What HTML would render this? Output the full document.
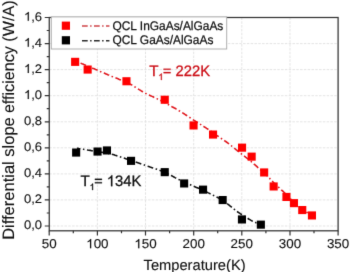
<!DOCTYPE html><html><head><meta charset="utf-8"><style>html,body{margin:0;padding:0;background:#fff;overflow:hidden}</style></head><body><svg width="350" height="272" viewBox="0 0 350 272" style="display:block" text-rendering="geometricPrecision">
<rect width="350" height="272" fill="#fff"/>
<defs><filter id="b" x="0" y="0" width="350" height="272" filterUnits="userSpaceOnUse" color-interpolation-filters="sRGB"><feConvolveMatrix order="3" kernelMatrix="0.0081 0.0738 0.0081 0.0738 0.6724 0.0738 0.0081 0.0738 0.0081" divisor="1" edgeMode="none" preserveAlpha="false"/></filter></defs>
<g id="all" filter="url(#b)">
<path d="M97.4,17.5 V230.8 M145.5,17.5 V230.8 M193.7,17.5 V230.8 M241.8,17.5 V230.8 M290.0,17.5 V230.8 M49.25,226.0 H338.1 M49.25,199.9 H338.1 M49.25,173.9 H338.1 M49.25,147.8 H338.1 M49.25,121.8 H338.1 M49.25,95.7 H338.1 M49.25,69.6 H338.1 M49.25,43.6 H338.1" stroke="#e3e3e3" stroke-width="0.95" stroke-dasharray="2.5 1.3" fill="none"/>
<rect x="49.25" y="17.5" width="288.85" height="213.3" fill="none" stroke="#333" stroke-width="1.25"/>
<path d="M49.2,230.8 v4.8 M73.3,230.8 v2.4 M97.4,230.8 v4.8 M121.5,230.8 v2.4 M145.5,230.8 v4.8 M169.6,230.8 v2.4 M193.7,230.8 v4.8 M217.7,230.8 v2.4 M241.8,230.8 v4.8 M265.9,230.8 v2.4 M290.0,230.8 v4.8 M314.0,230.8 v2.4 M338.1,230.8 v4.8 M49.25,226.0 h-4.5 M49.25,213.0 h-2.5 M49.25,199.9 h-4.5 M49.25,186.9 h-2.5 M49.25,173.9 h-4.5 M49.25,160.8 h-2.5 M49.25,147.8 h-4.5 M49.25,134.8 h-2.5 M49.25,121.8 h-4.5 M49.25,108.7 h-2.5 M49.25,95.7 h-4.5 M49.25,82.7 h-2.5 M49.25,69.6 h-4.5 M49.25,56.6 h-2.5 M49.25,43.6 h-4.5 M49.25,30.5 h-2.5 M49.25,17.5 h-4.5" stroke="#333" stroke-width="1.2" fill="none"/>
<path d="M75.4,61.0 L76.5,61.5 L78.2,62.2 L80.1,62.9 L82.1,63.8 L84.0,64.6 L85.6,65.2 L87.0,65.8 L88.3,66.3 L89.4,66.8 L90.5,67.3 L91.6,67.7 L92.7,68.2 L93.7,68.6 L94.7,69.0 L95.6,69.4 L96.6,69.8 L97.5,70.2 L98.4,70.6 L99.4,71.0 L100.3,71.5 L101.3,71.9 L102.2,72.3 L103.2,72.7 L104.2,73.1 L105.1,73.5 L106.0,73.9 L106.9,74.3 L107.8,74.7 L108.8,75.1 L109.8,75.5 L110.9,75.9 L112.0,76.4 L113.1,76.8 L114.3,77.3 L115.5,77.8 L116.8,78.3 L118.0,78.8 L119.4,79.4 L120.8,79.9 L122.1,80.5 L123.5,81.0 L124.7,81.5 L125.8,82.0 L126.9,82.5 L128.0,83.0 L129.0,83.5 L129.9,84.0 L130.8,84.4 L131.7,84.9 L132.4,85.3 L133.1,85.8 L133.8,86.2 L134.5,86.7 L135.3,87.1 L136.0,87.6 L136.8,88.1 L137.6,88.6 L138.4,89.1 L139.2,89.6 L140.1,90.1 L140.9,90.7 L141.8,91.2 L142.7,91.7 L143.6,92.2 L144.5,92.7 L145.4,93.2 L146.3,93.6 L147.3,94.1 L148.2,94.6 L149.2,95.0 L150.1,95.5 L151.1,95.9 L152.0,96.4 L153.0,96.8 L153.9,97.3 L154.9,97.7 L155.9,98.2 L156.8,98.6 L157.7,99.1 L158.7,99.5 L159.6,100.0 L160.5,100.4 L161.4,100.9 L162.4,101.4 L163.3,101.9 L164.3,102.4 L165.2,102.9 L166.2,103.4 L167.1,103.9 L168.1,104.5 L169.1,105.0 L170.1,105.6 L171.0,106.1 L172.0,106.7 L173.0,107.2 L174.0,107.8 L175.0,108.3 L176.0,108.9 L177.0,109.5 L178.0,110.1 L179.0,110.7 L180.0,111.2 L181.0,111.9 L182.0,112.5 L183.0,113.1 L184.0,113.7 L185.0,114.4 L185.9,115.0 L186.9,115.7 L187.9,116.3 L188.9,117.0 L189.9,117.6 L190.8,118.3 L191.8,118.9 L192.8,119.5 L193.7,120.2 L194.7,120.8 L195.7,121.4 L196.7,122.0 L197.6,122.6 L198.6,123.2 L199.6,123.8 L200.5,124.4 L201.5,125.0 L202.5,125.7 L203.5,126.3 L204.5,127.0 L205.6,127.6 L206.6,128.3 L207.7,129.0 L208.7,129.8 L209.8,130.5 L210.9,131.2 L211.9,132.0 L213.0,132.8 L214.1,133.6 L215.2,134.3 L216.2,135.1 L217.3,135.8 L218.3,136.4 L219.2,137.1 L220.2,137.8 L221.1,138.4 L222.0,139.0 L222.9,139.6 L223.7,140.1 L224.5,140.7 L225.3,141.2 L226.1,141.7 L226.8,142.3 L227.6,142.8 L228.3,143.3 L229.0,143.9 L229.7,144.4 L230.4,144.9 L231.1,145.5 L231.8,146.1 L232.5,146.6 L233.2,147.2 L233.9,147.8 L234.6,148.4 L235.3,149.0 L236.0,149.6 L236.8,150.2 L237.5,150.8 L238.2,151.3 L239.0,151.9 L239.7,152.5 L240.4,153.1 L241.1,153.6 L241.8,154.2 L242.5,154.7 L243.2,155.2 L243.9,155.8 L244.6,156.3 L245.3,156.8 L245.9,157.3 L246.6,157.8 L247.2,158.3 L247.9,158.8 L248.5,159.3 L249.1,159.8 L249.7,160.2 L250.3,160.7 L250.9,161.2 L251.5,161.8 L252.2,162.3 L252.8,162.9 L253.5,163.5 L254.1,164.1 L254.8,164.7 L255.5,165.3 L256.2,165.9 L257.0,166.6 L257.7,167.3 L258.5,168.0 L259.2,168.6 L259.9,169.3 L260.6,169.9 L261.3,170.5 L262.0,171.1 L262.6,171.7 L263.3,172.3 L263.9,172.9 L264.6,173.4 L265.2,174.0 L265.8,174.6 L266.5,175.1 L267.1,175.7 L267.7,176.4 L268.4,177.0 L269.0,177.7 L269.7,178.4 L270.3,179.1 L271.0,179.7 L271.6,180.4 L272.2,181.0 L272.7,181.6 L273.3,182.2 L273.8,182.8 L274.4,183.4 L275.0,184.0 L275.6,184.6 L276.2,185.1 L276.8,185.7 L277.5,186.3 L278.1,186.9 L278.9,187.5 L279.6,188.3 L280.5,189.0 L281.3,189.8 L282.2,190.6 L283.1,191.4 L283.9,192.2 L284.8,193.1 L285.6,193.9 L286.5,194.8 L287.3,195.7 L288.2,196.6 L289.1,197.5 L290.0,198.4 L290.9,199.3 L291.8,200.3 L292.7,201.2 L293.7,202.2 L294.8,203.2 L295.9,204.2 L297.1,205.3 L298.4,206.3 L299.7,207.4 L301.0,208.4 L302.4,209.5 L304.0,210.5 L305.8,211.7 L307.6,212.8 L309.3,213.9 L310.8,214.8 L311.8,215.4" stroke="#e0181e" stroke-width="1.6" stroke-dasharray="5.9 2.6 1.5 2.6" stroke-dashoffset="7" fill="none"/>
<path d="M77.0,148.3 L77.8,148.4 L79.0,148.6 L80.4,148.8 L81.8,149.1 L83.3,149.3 L84.8,149.5 L86.1,149.7 L87.5,150.0 L88.9,150.2 L90.3,150.4 L91.7,150.7 L93.1,150.9 L94.6,151.1 L96.1,151.4 L97.6,151.6 L99.1,151.8 L100.6,152.1 L102.1,152.3 L103.5,152.6 L105.0,152.8 L106.4,153.1 L107.8,153.3 L109.1,153.6 L110.5,153.9 L111.7,154.2 L112.9,154.5 L114.0,154.8 L115.1,155.2 L116.2,155.5 L117.3,155.9 L118.5,156.2 L119.6,156.6 L120.6,156.9 L121.7,157.3 L122.8,157.7 L124.0,158.1 L125.2,158.5 L126.4,158.9 L127.6,159.3 L128.9,159.7 L130.2,160.2 L131.5,160.6 L132.9,161.1 L134.3,161.6 L135.7,162.1 L137.1,162.6 L138.6,163.1 L140.0,163.6 L141.5,164.1 L142.9,164.6 L144.4,165.1 L145.8,165.6 L147.3,166.1 L148.7,166.5 L150.1,167.0 L151.4,167.4 L152.8,167.9 L154.1,168.3 L155.4,168.8 L156.7,169.2 L157.9,169.7 L159.1,170.1 L160.3,170.6 L161.5,171.0 L162.7,171.5 L163.9,172.0 L165.0,172.5 L166.1,173.0 L167.2,173.6 L168.3,174.1 L169.4,174.7 L170.6,175.2 L171.7,175.8 L172.8,176.4 L173.9,177.0 L175.0,177.6 L176.2,178.2 L177.3,178.8 L178.5,179.4 L179.7,180.0 L180.9,180.6 L182.1,181.1 L183.4,181.7 L184.7,182.3 L186.0,182.9 L187.4,183.5 L188.8,184.1 L190.3,184.7 L191.7,185.4 L193.2,186.0 L194.8,186.7 L196.4,187.4 L198.0,188.1 L199.6,188.8 L201.3,189.5 L202.9,190.3 L204.5,191.0 L206.2,191.8 L207.8,192.6 L209.5,193.4 L211.1,194.2 L212.7,195.0 L214.2,195.8 L215.7,196.6 L217.2,197.3 L218.7,198.1 L220.1,198.9 L221.5,199.8 L222.8,200.6 L224.1,201.5 L225.4,202.3 L226.6,203.2 L227.8,204.2 L229.1,205.1 L230.3,206.1 L231.6,207.1 L232.9,208.1 L234.1,209.1 L235.4,210.1 L236.6,211.1 L237.8,212.0 L239.1,212.8 L240.3,213.7 L241.5,214.5 L242.6,215.2 L243.7,215.9 L244.7,216.6 L245.7,217.2 L246.6,217.7 L247.5,218.2 L248.3,218.7 L249.1,219.2 L249.9,219.6 L250.7,220.1 L251.4,220.5 L252.2,220.9 L252.9,221.2 L253.6,221.6 L254.4,222.0 L255.3,222.4 L256.1,222.8 L256.9,223.1 L257.5,223.4 L258.0,223.6" stroke="#111" stroke-width="1.6" stroke-dasharray="5.9 2.6 1.5 2.6" stroke-dashoffset="2.5" fill="none"/>
<rect x="71.1" y="57.8" width="8.1" height="8.1" fill="#ff0000"/>
<rect x="83.6" y="65.5" width="8.1" height="8.1" fill="#ff0000"/>
<rect x="122.4" y="77.2" width="8.1" height="8.1" fill="#ff0000"/>
<rect x="160.7" y="95.7" width="8.1" height="8.1" fill="#ff0000"/>
<rect x="189.5" y="121.4" width="8.1" height="8.1" fill="#ff0000"/>
<rect x="209.0" y="130.5" width="8.1" height="8.1" fill="#ff0000"/>
<rect x="238.0" y="143.6" width="8.1" height="8.1" fill="#ff0000"/>
<rect x="247.6" y="152.6" width="8.1" height="8.1" fill="#ff0000"/>
<rect x="260.1" y="168.4" width="8.1" height="8.1" fill="#ff0000"/>
<rect x="269.6" y="182.4" width="8.1" height="8.1" fill="#ff0000"/>
<rect x="282.4" y="192.9" width="8.1" height="8.1" fill="#ff0000"/>
<rect x="289.9" y="199.1" width="8.1" height="8.1" fill="#ff0000"/>
<rect x="298.2" y="206.0" width="8.1" height="8.1" fill="#ff0000"/>
<rect x="307.9" y="211.4" width="8.1" height="8.1" fill="#ff0000"/>
<rect x="72.1" y="148.5" width="8.1" height="8.1" fill="#000"/>
<rect x="93.5" y="147.5" width="8.1" height="8.1" fill="#000"/>
<rect x="102.9" y="146.4" width="8.1" height="8.1" fill="#000"/>
<rect x="127.0" y="156.8" width="8.1" height="8.1" fill="#000"/>
<rect x="160.7" y="168.1" width="8.1" height="8.1" fill="#000"/>
<rect x="180.1" y="179.4" width="8.1" height="8.1" fill="#000"/>
<rect x="199.0" y="185.6" width="8.1" height="8.1" fill="#000"/>
<rect x="218.6" y="196.0" width="8.1" height="8.1" fill="#000"/>
<rect x="237.9" y="215.4" width="8.1" height="8.1" fill="#000"/>
<rect x="256.8" y="220.6" width="8.1" height="8.1" fill="#000"/>
<rect x="51.3" y="16.9" width="175.4" height="32.1" fill="#fff" stroke="#aaaaaa" stroke-width="0.95"/>
<rect x="61.8" y="21.6" width="8.2" height="8.2" fill="#ff0000"/>
<rect x="61.8" y="36.2" width="8.2" height="8.2" fill="#000"/>
<path d="M82.0,26.1 H109.45" stroke="#cf4448" stroke-width="1.5" stroke-dasharray="5.7 2.4 1.5 2.4"/>
<path d="M82.0,40.8 H109.45" stroke="#2a2a2a" stroke-width="1.5" stroke-dasharray="5.7 2.4 1.5 2.4"/>
<g font-family="Liberation Sans, sans-serif" fill="#111" color="#111" stroke="#111" stroke-width="0.12">
<g stroke-width="0.25"><g transform="translate(112.50,30.20) scale(0.953,1)"><text x="0.00" y="0" font-size="12.5" xml:space="preserve">QCL InGaAs/AlGaAs</text></g>
<g transform="translate(112.50,44.10) scale(0.953,1)"><text x="0.00" y="0" font-size="12.5" xml:space="preserve">QCL GaAs/AlGaAs</text></g></g>
<g transform="translate(24.00,229.30) scale(1.05,1)"><text x="0.00" y="0" font-size="12.4" xml:space="preserve">0,0</text></g>
<g transform="translate(24.00,203.24) scale(1.05,1)"><text x="0.00" y="0" font-size="12.4" xml:space="preserve">0,2</text></g>
<g transform="translate(24.00,177.18) scale(1.05,1)"><text x="0.00" y="0" font-size="12.4" xml:space="preserve">0,4</text></g>
<g transform="translate(24.00,151.11) scale(1.05,1)"><text x="0.00" y="0" font-size="12.4" xml:space="preserve">0,6</text></g>
<g transform="translate(24.00,125.05) scale(1.05,1)"><text x="0.00" y="0" font-size="12.4" xml:space="preserve">0,8</text></g>
<g transform="translate(24.00,98.99) scale(1.05,1)"><text x="6.90" y="0" font-size="12.4" xml:space="preserve">,0</text><path d="M4.62,0.00 L3.53,0.00 L3.53,-6.95 Q3.14,-6.57 2.50,-6.19 Q1.86,-5.82 1.35,-5.63 L1.35,-6.68 Q2.26,-7.11 2.95,-7.73 Q3.63,-8.34 3.92,-8.91 L4.62,-8.91 Z"/></g>
<g transform="translate(24.00,72.92) scale(1.05,1)"><text x="6.90" y="0" font-size="12.4" xml:space="preserve">,2</text><path d="M4.62,0.00 L3.53,0.00 L3.53,-6.95 Q3.14,-6.57 2.50,-6.19 Q1.86,-5.82 1.35,-5.63 L1.35,-6.68 Q2.26,-7.11 2.95,-7.73 Q3.63,-8.34 3.92,-8.91 L4.62,-8.91 Z"/></g>
<g transform="translate(24.00,46.86) scale(1.05,1)"><text x="6.90" y="0" font-size="12.4" xml:space="preserve">,4</text><path d="M4.62,0.00 L3.53,0.00 L3.53,-6.95 Q3.14,-6.57 2.50,-6.19 Q1.86,-5.82 1.35,-5.63 L1.35,-6.68 Q2.26,-7.11 2.95,-7.73 Q3.63,-8.34 3.92,-8.91 L4.62,-8.91 Z"/></g>
<g transform="translate(24.00,20.80) scale(1.05,1)"><text x="6.90" y="0" font-size="12.4" xml:space="preserve">,6</text><path d="M4.62,0.00 L3.53,0.00 L3.53,-6.95 Q3.14,-6.57 2.50,-6.19 Q1.86,-5.82 1.35,-5.63 L1.35,-6.68 Q2.26,-7.11 2.95,-7.73 Q3.63,-8.34 3.92,-8.91 L4.62,-8.91 Z"/></g>
<g transform="translate(41.79,248.20) scale(1.04,1)"><text x="0.00" y="0" font-size="12.9" xml:space="preserve">50</text></g>
<g transform="translate(86.20,248.20) scale(1.04,1)"><text x="7.17" y="0" font-size="12.9" xml:space="preserve">00</text><path d="M4.81,0.00 L3.67,0.00 L3.67,-7.23 Q3.26,-6.83 2.60,-6.44 Q1.93,-6.05 1.40,-5.86 L1.40,-6.95 Q2.36,-7.40 3.07,-8.04 Q3.78,-8.67 4.08,-9.27 L4.81,-9.27 Z"/></g>
<g transform="translate(134.34,248.20) scale(1.04,1)"><text x="7.17" y="0" font-size="12.9" xml:space="preserve">50</text><path d="M4.81,0.00 L3.67,0.00 L3.67,-7.23 Q3.26,-6.83 2.60,-6.44 Q1.93,-6.05 1.40,-5.86 L1.40,-6.95 Q2.36,-7.40 3.07,-8.04 Q3.78,-8.67 4.08,-9.27 L4.81,-9.27 Z"/></g>
<g transform="translate(182.48,248.20) scale(1.04,1)"><text x="0.00" y="0" font-size="12.9" xml:space="preserve">200</text></g>
<g transform="translate(230.62,248.20) scale(1.04,1)"><text x="0.00" y="0" font-size="12.9" xml:space="preserve">250</text></g>
<g transform="translate(278.77,248.20) scale(1.04,1)"><text x="0.00" y="0" font-size="12.9" xml:space="preserve">300</text></g>
<g transform="translate(326.91,248.20) scale(1.04,1)"><text x="0.00" y="0" font-size="12.9" xml:space="preserve">350</text></g>
<g transform="translate(143.54,269.90) scale(1.0,1)"><text x="0.00" y="0" font-size="14.7" xml:space="preserve">Temperature(K)</text></g>
<g transform="translate(13.6,239.85) rotate(-90)"><g transform="translate(0.00,0.00) scale(1.0,1)"><text x="0.00" y="0" font-size="16.5" xml:space="preserve">Differential slope</text></g></g>
<g transform="translate(13.6,0.35) rotate(-90)"><g transform="translate(-112.77,0.00) scale(1.0,1)"><text x="0.00" y="0" font-size="16.15" xml:space="preserve">efficiency (W/A)</text></g></g>
</g>
<g font-family="Liberation Sans, sans-serif" fill="#111" color="#111" stroke="#111" stroke-width="0.3"><g transform="translate(80.50,186.20) scale(1.0,1)"><text x="0.00" y="0" font-size="15.2" xml:space="preserve">T</text></g><path d="M93.02,190.00 L92.23,190.00 L92.23,185.02 Q91.95,185.28 91.49,185.55 Q91.03,185.82 90.67,185.96 L90.67,185.20 Q91.33,184.89 91.82,184.46 Q92.31,184.02 92.51,183.60 L93.02,183.60 Z" stroke-width="0.35"/><path d="M94.90,178.80 h7 v1.1 h-7 Z M94.90,182.20 h7 v1.1 h-7 Z"/><g transform="translate(106.80,186.20) scale(0.975,1)"><text x="8.45" y="0" font-size="15.2" xml:space="preserve">34K</text><path d="M5.66,0.00 L4.33,0.00 L4.33,-8.51 Q3.84,-8.05 3.06,-7.59 Q2.28,-7.13 1.66,-6.90 L1.66,-8.19 Q2.78,-8.72 3.61,-9.47 Q4.45,-10.22 4.80,-10.93 L5.66,-10.93 Z"/></g></g>
<g font-family="Liberation Sans, sans-serif" fill="#cc1018" color="#cc1018" stroke="#cc1018" stroke-width="0.3"><g transform="translate(149.20,76.10) scale(1.0,1)"><text x="0.00" y="0" font-size="15.2" xml:space="preserve">T</text></g><path d="M161.72,79.90 L160.93,79.90 L160.93,74.92 Q160.65,75.18 160.19,75.45 Q159.73,75.72 159.37,75.86 L159.37,75.10 Q160.03,74.79 160.52,74.36 Q161.01,73.92 161.21,73.50 L161.72,73.50 Z" stroke-width="0.35"/><path d="M163.60,68.70 h7 v1.1 h-7 Z M163.60,72.10 h7 v1.1 h-7 Z"/><g transform="translate(175.50,76.10) scale(0.975,1)"><text x="0.00" y="0" font-size="15.2" xml:space="preserve">222K</text></g></g>
</g>
</svg></body></html>
